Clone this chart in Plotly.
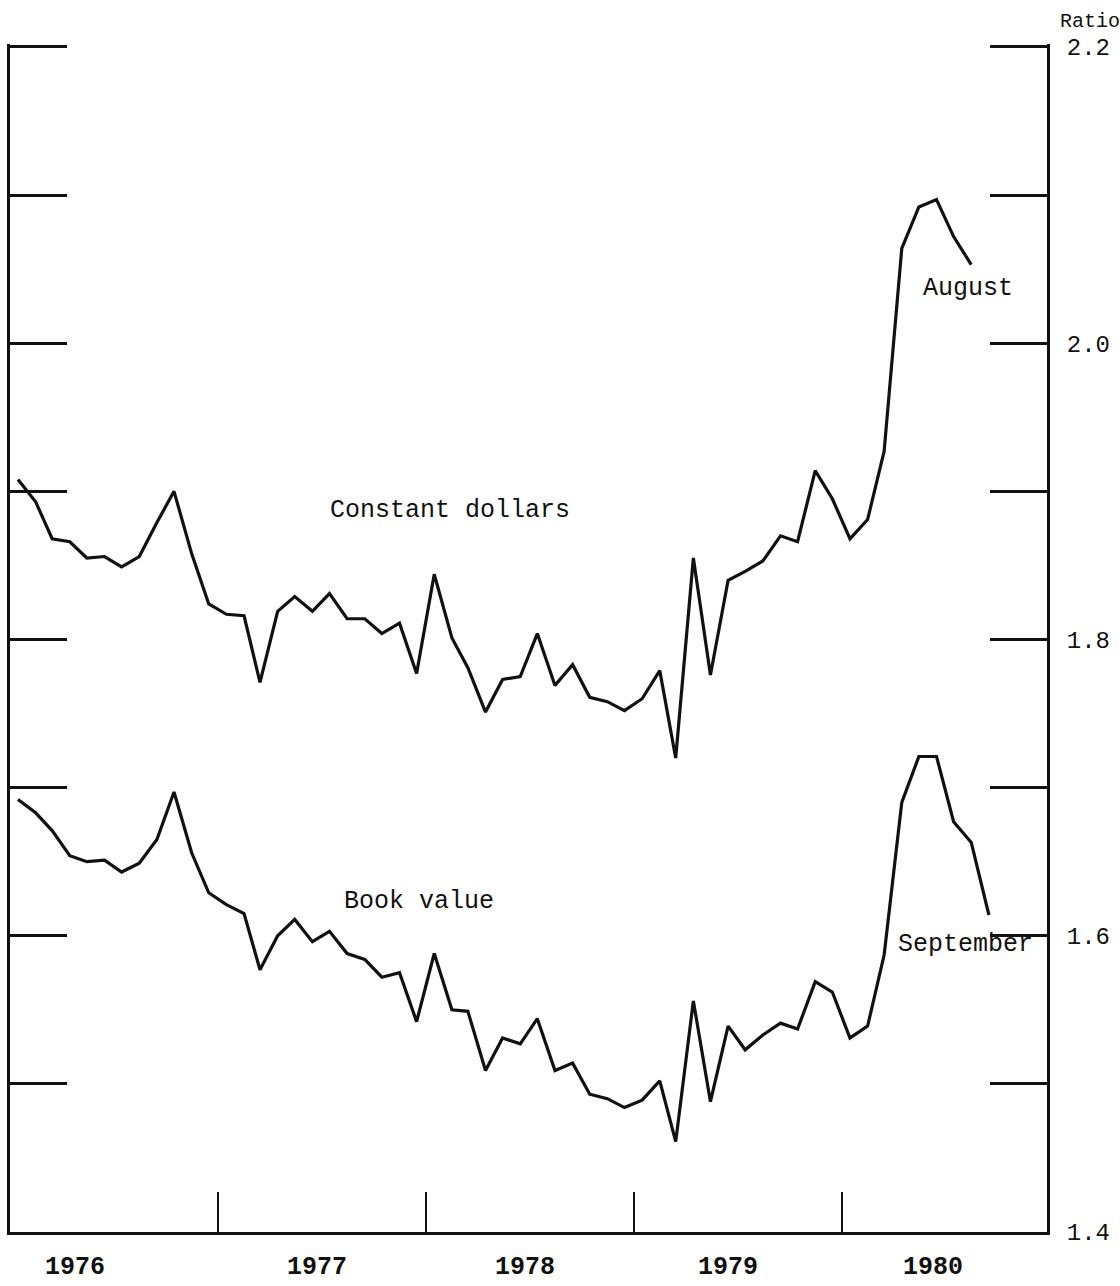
import pandas as pd
import plotly.graph_objects as go

# Monthly observations, January 1976 onward
months = pd.date_range("1976-01-01", periods=57, freq="MS") + pd.Timedelta(days=14)

constant_dollars = [
    1.908, 1.893, 1.868, 1.866, 1.855, 1.856, 1.849, 1.856, 1.879, 1.900, 1.858, 1.824,
    1.817, 1.816, 1.771, 1.819, 1.829, 1.819, 1.831, 1.814, 1.814, 1.804, 1.811, 1.777,
    1.844, 1.801, 1.781, 1.751, 1.773, 1.775, 1.804, 1.769, 1.783, 1.761, 1.758, 1.752,
    1.760, 1.779, 1.720, 1.855, 1.776, 1.840, 1.846, 1.853, 1.870, 1.866, 1.914, 1.895,
    1.868, 1.881, 1.927, 2.064, 2.092, 2.097, 2.072, 2.053,
]

book_value = [
    1.692, 1.683, 1.671, 1.654, 1.650, 1.651, 1.643, 1.649, 1.665, 1.697, 1.656, 1.629,
    1.621, 1.615, 1.577, 1.600, 1.611, 1.596, 1.603, 1.588, 1.584, 1.572, 1.575, 1.542,
    1.588, 1.550, 1.549, 1.509, 1.531, 1.527, 1.544, 1.509, 1.514, 1.493, 1.490, 1.484,
    1.489, 1.502, 1.461, 1.556, 1.488, 1.539, 1.523, 1.533, 1.541, 1.537, 1.569, 1.562,
    1.531, 1.539, 1.587, 1.690, 1.721, 1.721, 1.677, 1.663, 1.614,
]

year_labels = ["1976", "1977", "1978", "1979", "1980"]
year_label_dates = ["1976-04-24", "1977-06-23", "1978-06-24", "1979-06-15", "1980-06-09"]
year_boundaries = ["1977-01-01", "1978-01-01", "1979-01-01", "1980-01-01"]
ratio_ticks = [1.4, 1.6, 1.8, 2.0, 2.2]
step_ticks = [1.5, 1.6, 1.7, 1.8, 1.9, 2.0, 2.1, 2.2]

MONO = "Liberation Mono, Courier New, monospace"
INK = "#111111"

fig = go.Figure()
fig.add_trace(go.Scatter(x=months[:len(constant_dollars)], y=constant_dollars,
                         mode="lines", line=dict(color=INK, width=3.2),
                         name="Constant dollars", yaxis="y"))
fig.add_trace(go.Scatter(x=months[:len(book_value)], y=book_value,
                         mode="lines", line=dict(color=INK, width=3.2),
                         name="Book value", yaxis="y"))

text_notes = [
    ("Constant dollars", "1978-02-12", 1.887),
    ("Book value", "1977-12-20", 1.623),
    ("August", "1980-08-09", 2.037),
    ("September", "1980-08-04", 1.594),
]
for label, xd, yv in text_notes:
    fig.add_annotation(x=xd, y=yv, xref="x", yref="y", text=label, showarrow=False,
                       font=dict(family=MONO, size=25, color=INK),
                       xanchor="center", yanchor="middle")

for label, xd in zip(year_labels, year_label_dates):
    fig.add_annotation(x=xd, y=-0.03, xref="x", yref="paper", text=label,
                       showarrow=False, xanchor="center", yanchor="middle",
                       font=dict(family=MONO, size=25, color=INK, weight="bold"))

fig.add_annotation(x=1.0, y=1.0, xref="paper", yref="paper", text="Ratio",
                   showarrow=False, xanchor="left", yanchor="bottom",
                   xshift=11, yshift=9,
                   font=dict(family=MONO, size=20, color=INK))

# top of the range sits a hair above 2.2 so the 2.2 tick marks are drawn
yr = [1.4, 2.202]
fig.update_layout(
    width=1120, height=1286,
    margin=dict(l=10, r=73, t=44, b=54),
    paper_bgcolor="white", plot_bgcolor="white",
    showlegend=False,
    xaxis=dict(
        type="date", range=["1976-01-01", "1980-12-26"],
        showgrid=False, zeroline=False,
        showline=True, linecolor=INK, linewidth=3,
        tickvals=year_boundaries, ticktext=["" for _ in year_boundaries],
        ticks="inside", ticklen=40, tickwidth=2, tickcolor=INK,
    ),
    yaxis=dict(
        range=yr, showgrid=False, zeroline=False,
        showline=True, linecolor=INK, linewidth=3,
        tickvals=step_ticks, ticks="inside", ticklen=57, tickwidth=3,
        tickcolor=INK, showticklabels=False,
    ),
    yaxis2=dict(
        range=yr, overlaying="y", side="right", showgrid=False, zeroline=False,
        showline=True, linecolor=INK, linewidth=3,
        tickvals=ratio_ticks, ticktext=[f"{v:.1f}" for v in ratio_ticks],
        ticks="inside", ticklen=57, tickwidth=3, tickcolor=INK,
        ticklabelstandoff=12,
        tickfont=dict(family=MONO, size=24, color=INK),
        minor=dict(tickvals=step_ticks, ticks="inside", ticklen=57,
                   tickwidth=3, tickcolor=INK, showgrid=False),
    ),
)

# invisible trace so the right axis is drawn
fig.add_trace(go.Scatter(x=[months[0]], y=[1.4], yaxis="y2", mode="markers",
                         marker=dict(opacity=0), hoverinfo="skip", showlegend=False))

fig.write_html("out.html")
